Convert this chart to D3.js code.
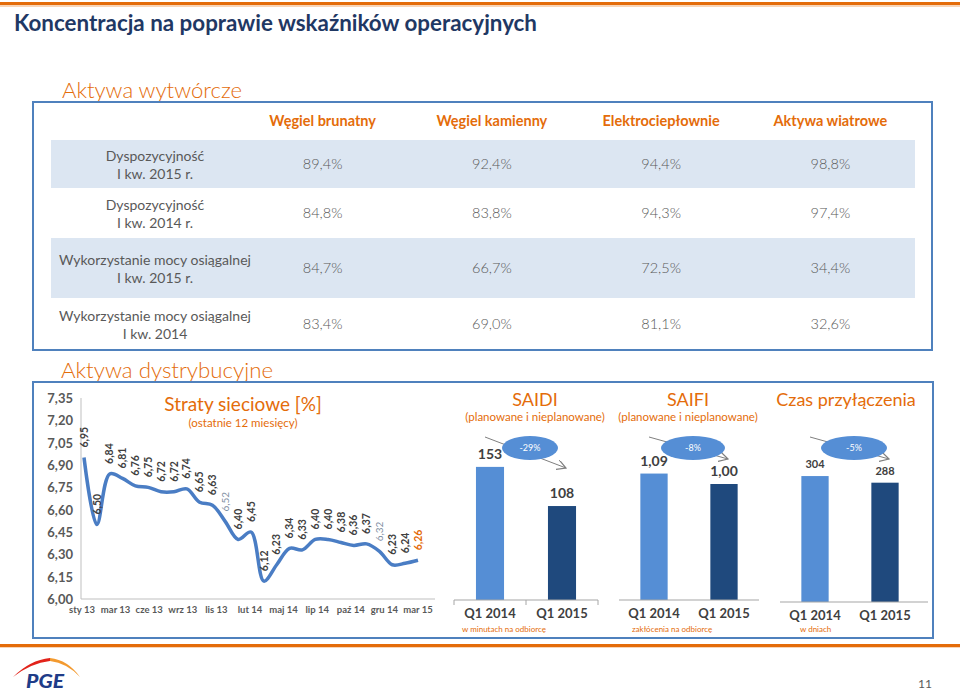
<!DOCTYPE html>
<html><head><meta charset="utf-8">
<script src="https://cdn.jsdelivr.net/npm/d3@7"></script>
<style>body{margin:0;background:#fff}svg{display:block}</style>
</head><body><svg id="c" width="960" height="691"></svg>
<script>
// ---------------- DATA ----------------
const pageTitle = "Koncentracja na poprawie wskaźników operacyjnych";
const tableColumns = ["Węgiel brunatny", "Węgiel kamienny", "Elektrociepłownie", "Aktywa wiatrowe"];
const tableRowLabels = [
  ["Dyspozycyjność", "I kw. 2015 r."],
  ["Dyspozycyjność", "I kw. 2014 r."],
  ["Wykorzystanie mocy osiągalnej", "I kw. 2015 r."],
  ["Wykorzystanie mocy osiągalnej", "I kw. 2014"]
];
const tableValues = [
  [89.4, 92.4, 94.4, 98.8],
  [84.8, 83.8, 94.3, 97.4],
  [84.7, 66.7, 72.5, 34.4],
  [83.4, 69.0, 81.1, 32.6]
];
const months = ["sty 13","lut 13","mar 13","kwi 13","maj 13","cze 13","lip 13","sie 13","wrz 13","paź 13","lis 13","gru 13",
  "sty 14","lut 14","mar 14","kwi 14","maj 14","cze 14","lip 14","sie 14","wrz 14","paź 14","lis 14","gru 14",
  "sty 15","lut 15","mar 15"];
const lossValues = [6.95, 6.50, 6.84, 6.81, 6.76, 6.75, 6.72, 6.72, 6.74, 6.65, 6.63, 6.52,
  6.40, 6.45, 6.12, 6.23, 6.34, 6.33, 6.40, 6.40, 6.38, 6.36, 6.37, 6.32, 6.23, 6.24, 6.26];
const lossYTicks = [6.00, 6.15, 6.30, 6.45, 6.60, 6.75, 6.90, 7.05, 7.20, 7.35];
const lossXTickLabels = ["sty 13","mar 13","cze 13","wrz 13","lis 13","lut 14","maj 14","lip 14","paź 14","gru 14","mar 15"];
const barCategories = ["Q1 2014", "Q1 2015"];
const saidiValues = [153, 108];
const saifiValues = [1.09, 1.00];
const czasValues = [304, 288];
const changeLabels = ["-29%", "-8%", "-5%"];

// ---------------- STYLE ----------------
const F = "Lato, 'Open Sans', 'DejaVu Sans', sans-serif";
const ORANGE = "#E46C0A", GRAY = "#595959", DARK = "#404040", BORDER = "#4F81BD";
const LIGHT = "#558ED5", NAVY = "#1F497D", BAND = "#DCE6F2";
const fmt2 = v => d3.format(".2f")(v).replace(".", ",");
const fmt1 = v => d3.format(".1f")(v).replace(".", ",") + "%";

const svg = d3.select("#c");
svg.append("rect").attr("width", 960).attr("height", 691).attr("fill", "#fff");

function T(g, x, y, s, o = {}) {
  const t = g.append("text").attr("x", x).attr("y", y).text(s)
    .attr("font-family", F).attr("font-size", o.size || 14)
    .attr("fill", o.fill || GRAY).attr("text-anchor", o.anchor || "start");
  if (o.weight) t.attr("font-weight", o.weight);
  if (o.style) t.attr("font-style", o.style);
  if (o.len) t.attr("textLength", o.len).attr("lengthAdjust", "spacingAndGlyphs");
  return t;
}

// top & bottom rules
svg.append("rect").attr("x", 0).attr("y", 2).attr("width", 960).attr("height", 3).attr("fill", ORANGE);
svg.append("rect").attr("x", 0).attr("y", 5).attr("width", 960).attr("height", 2).attr("fill", "#F8D5B8");
svg.append("rect").attr("x", 0).attr("y", 644).attr("width", 960).attr("height", 3).attr("fill", ORANGE);
svg.append("rect").attr("x", 0).attr("y", 647).attr("width", 960).attr("height", 1).attr("fill", "#F8D5B8");

T(svg, 14, 31, pageTitle, {size: 23, weight: 700, fill: "#1F3864", len: 523});

// ---------------- TABLE ----------------
T(svg, 62, 98, "Aktywa wytwórcze", {size: 22, weight: 300, fill: ORANGE, len: 180});
const rowEdges = [102, 140, 188, 238, 298, 350];
const colX = d3.scaleBand().domain(tableColumns).range([238, 915]);
const tbl = svg.append("g");
tableValues.forEach((row, i) => {
  const y0 = rowEdges[i + 1], y1 = rowEdges[i + 2], c = (y0 + y1) / 2;
  if (i % 2 === 0) tbl.append("rect").attr("x", 51).attr("y", y0).attr("width", 864).attr("height", y1 - y0).attr("fill", BAND);
  T(tbl, 155, c - 3, tableRowLabels[i][0], {size: 14, anchor: "middle"});
  T(tbl, 155, c + 15, tableRowLabels[i][1], {size: 14, anchor: "middle"});
  row.forEach((v, j) => T(tbl, colX(tableColumns[j]) + colX.bandwidth() / 2, c + 5, fmt1(v), {size: 14.5, anchor: "middle", weight: 300}));
});
tableColumns.forEach(cn => T(tbl, colX(cn) + colX.bandwidth() / 2, 126, cn, {size: 14.5, weight: 700, fill: ORANGE, anchor: "middle"}));
tbl.append("rect").attr("x", 33).attr("y", 102).attr("width", 899).attr("height", 248)
  .attr("fill", "none").attr("stroke", BORDER).attr("stroke-width", 2);

// ---------------- DISTRIBUTION BOX ----------------
T(svg, 61, 378, "Aktywa dystrybucyjne", {size: 22, weight: 300, fill: ORANGE, len: 212});
svg.append("rect").attr("x", 33).attr("y", 382).attr("width", 900).attr("height", 256)
  .attr("fill", "none").attr("stroke", BORDER).attr("stroke-width", 2);

// ---------------- LINE CHART ----------------
const lc = svg.append("g");
const yL = d3.scaleLinear().domain([6.0, 7.35]).range([599, 398]);
const xL = d3.scalePoint().domain(months).range([84, 418]);
const xT = d3.scalePoint().domain(lossXTickLabels).range([82, 418]);
lossYTicks.forEach(v => T(lc, 73, yL(v) + 5, fmt2(v), {size: 13, weight: 700, anchor: "end"}));
lc.append("line").attr("x1", 81).attr("x2", 81).attr("y1", yL(7.35)).attr("y2", yL(6.0)).attr("stroke", "#BFBFBF");
lc.append("line").attr("x1", 81).attr("x2", 435).attr("y1", yL(6.0)).attr("y2", yL(6.0)).attr("stroke", "#BFBFBF");
lossXTickLabels.forEach(l => T(lc, xT(l), 613, l, {size: 9.5, weight: 700, anchor: "middle"}));
T(lc, 243, 411, "Straty sieciowe [%]", {size: 19, fill: ORANGE, anchor: "middle"});
T(lc, 243, 427, "(ostatnie 12 miesięcy)", {size: 11.5, fill: ORANGE, anchor: "middle"});
lc.append("path").datum(lossValues)
  .attr("d", d3.line().x((d, i) => xL(months[i])).y(d => yL(d)).curve(d3.curveCatmullRom.alpha(0.5)))
  .attr("fill", "none").attr("stroke", "#4A7DC4").attr("stroke-width", 3.5).attr("stroke-linejoin", "round");
lossValues.forEach((v, i) => {
  const last = i === lossValues.length - 1, faint = months[i].startsWith("gru");
  const x = xL(months[i]), y = yL(v) - 10;
  lc.append("text").attr("transform", `translate(${x},${y}) rotate(-90)`).attr("dy", "0.35em")
    .attr("font-family", F).attr("font-size", faint ? 10 : 10.5).attr("font-weight", faint ? 400 : 700)
    .attr("fill", last ? ORANGE : faint ? "#7F8FA3" : DARK).text(fmt2(v));
});

// ---------------- BAR PANELS ----------------
const defs = svg.append("defs");
defs.append("marker").attr("id", "arr").attr("viewBox", "0 0 10 10").attr("refX", 9).attr("refY", 5)
  .attr("markerWidth", 10).attr("markerHeight", 10).attr("orient", "auto").attr("markerUnits", "userSpaceOnUse")
  .append("path").attr("d", "M0,0 L9,5 L0,10").attr("fill", "none").attr("stroke", "#7F7F7F").attr("stroke-width", 1.2);

const panels = [
  {title: "SAIDI", sub: "(planowane i nieplanowane)", values: saidiValues, fmt: v => String(v), change: changeLabels[0],
   unit: "w minutach na odbiorcę", cx: 535, range: [454, 598], base: 600, ymax: 200, top: 426, rx: 28, arrEnd: 468, unitX: 462, valSize: 14, ticks: true},
  {title: "SAIFI", sub: "(planowane i nieplanowane)", values: saifiValues, fmt: fmt2, change: changeLabels[1],
   unit: "zakłócenia na odbiorcę", cx: 688, range: [619, 759], base: 600, ymax: 1.5, top: 426, rx: 32, arrEnd: 459, unitX: 632, valSize: 14, ticks: false},
  {title: "Czas przyłączenia", sub: "", values: czasValues, fmt: v => String(v), change: changeLabels[2],
   unit: "w dniach", cx: 846, range: [780, 920], base: 602, ymax: 420, top: 428, rx: 33, arrEnd: 459, unitX: 800, valSize: 11, ticks: false, axisEnd: 928}
];
panels.forEach(p => {
  const g = svg.append("g");
  const x = d3.scaleBand().domain(barCategories).range(p.range).paddingInner(0.61).paddingOuter(0.305);
  const y = d3.scaleLinear().domain([0, p.ymax]).range([p.base, p.top]);
  T(g, p.cx, 406, p.title, {size: 18, fill: ORANGE, anchor: "middle"});
  if (p.sub) T(g, p.cx, 421, p.sub, {size: 11.5, fill: ORANGE, anchor: "middle"});
  g.selectAll("rect.bar").data(p.values).join("rect").attr("class", "bar")
    .attr("x", (d, i) => x(barCategories[i])).attr("width", x.bandwidth())
    .attr("y", d => y(d)).attr("height", d => p.base - y(d))
    .attr("fill", (d, i) => i === 0 ? LIGHT : NAVY);
  p.values.forEach((v, i) => T(g, x(barCategories[i]) + x.bandwidth() / 2, y(v) - 8, p.fmt(v),
    {size: p.valSize, weight: 700, fill: DARK, anchor: "middle"}));
  const ax0 = p.range[0], ax1 = p.axisEnd || p.range[1];
  g.append("line").attr("x1", ax0).attr("x2", ax1).attr("y1", p.base).attr("y2", p.base).attr("stroke", "#A6A6A6").attr("stroke-width", 1.2);
  if (p.ticks) [p.range[0], (p.range[0] + p.range[1]) / 2, p.range[1]].forEach(tx =>
    g.append("line").attr("x1", tx).attr("x2", tx).attr("y1", p.base).attr("y2", p.base + 5).attr("stroke", "#A6A6A6"));
  barCategories.forEach(c => T(g, x(c) + x.bandwidth() / 2, p.base + 18, c, {size: 13, weight: 700, fill: DARK, anchor: "middle"}));
  T(g, p.unitX, 632, p.unit, {size: 8, fill: ORANGE});
  const c0 = x(barCategories[0]) + x.bandwidth() / 2, c1 = x(barCategories[1]) + x.bandwidth() / 2;
  g.append("line").attr("x1", c0 - 5).attr("y1", 437).attr("x2", c1 + 4).attr("y2", p.arrEnd)
    .attr("stroke", "#7F7F7F").attr("stroke-width", 1).attr("marker-end", "url(#arr)");
  const ex = (c0 + c1) / 2 + 4;
  g.append("ellipse").attr("cx", ex).attr("cy", 448).attr("rx", p.rx).attr("ry", 12).attr("fill", LIGHT);
  T(g, ex, 451, p.change, {size: 9, fill: "#fff", anchor: "middle"});
});

// ---------------- FOOTER ----------------
const lg = svg.append("g");
lg.append("path").attr("d", "M13,677 Q30,660 50,658 L50,661 Q31,663 13,677 Z").attr("fill", "#E2231A");
lg.append("path").attr("d", "M50,658 Q68,660 80,677 Q67,663 50,661 Z").attr("fill", "#F39A2F");
T(lg, 26, 688, "PGE", {size: 18, weight: 900, style: "italic", fill: "#1F3C88", len: 38});
T(svg, 918, 688, "11", {size: 12, fill: GRAY});
</script></body></html>
